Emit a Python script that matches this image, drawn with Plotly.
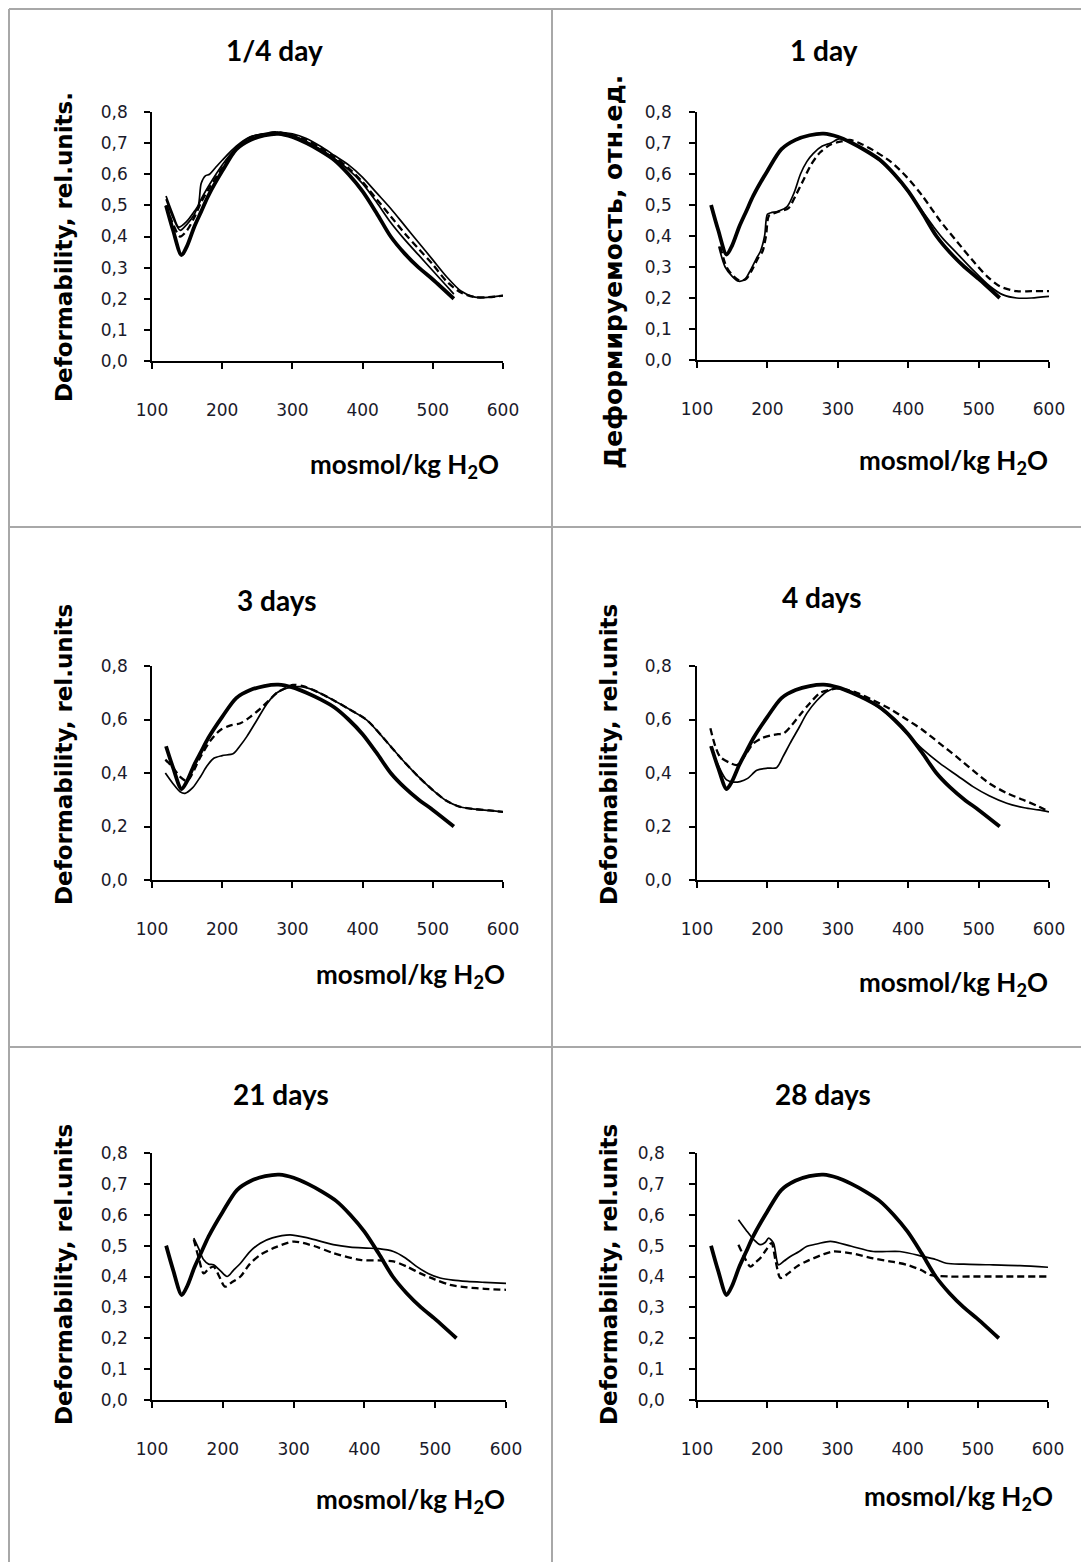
import plotly.graph_objects as go

W, H = 1089, 1562
OFF = 8                      # browser body margin
FW, FH = W - OFF, H - OFF    # figure size

# ---------------- data ----------------
# control (thick) curve, shown in every panel
ctrl_x = [120, 130, 142, 150, 160, 170, 180, 200, 220, 240, 260, 280, 300, 320, 340, 360, 380, 400, 420, 440, 460, 480, 500, 530]
ctrl_y = [0.50, 0.42, 0.34, 0.37, 0.43, 0.48, 0.53, 0.61, 0.68, 0.71, 0.725, 0.73, 0.72, 0.70, 0.675, 0.645, 0.60, 0.545, 0.475, 0.40, 0.345, 0.30, 0.262, 0.20]

# 1/4 day
d0_thinA_x = [120, 130, 138, 150, 160, 166, 170, 176, 182, 190, 200, 220, 240, 260, 280, 300, 320, 340, 360, 380, 400, 420, 440, 460, 480, 500, 520, 530]
d0_thinA_y = [0.53, 0.47, 0.43, 0.45, 0.48, 0.50, 0.57, 0.595, 0.60, 0.62, 0.645, 0.69, 0.72, 0.73, 0.735, 0.725, 0.705, 0.68, 0.65, 0.615, 0.57, 0.51, 0.445, 0.39, 0.34, 0.29, 0.24, 0.215]
d0_dash_x = [120, 130, 140, 150, 160, 170, 180, 200, 220, 240, 260, 280, 300, 320, 340, 360, 380, 400, 420, 440, 460, 480, 500, 520, 540, 560, 580, 600]
d0_dash_y = [0.50, 0.44, 0.40, 0.42, 0.46, 0.51, 0.55, 0.62, 0.68, 0.715, 0.73, 0.735, 0.725, 0.71, 0.685, 0.655, 0.62, 0.575, 0.52, 0.465, 0.41, 0.36, 0.31, 0.255, 0.22, 0.205, 0.205, 0.21]
d0_thinB_x = [120, 130, 140, 150, 160, 170, 180, 200, 220, 240, 260, 280, 300, 320, 340, 360, 380, 400, 420, 440, 460, 480, 500, 520, 540, 560, 580, 600]
d0_thinB_y = [0.52, 0.46, 0.42, 0.44, 0.47, 0.52, 0.56, 0.63, 0.685, 0.72, 0.73, 0.735, 0.73, 0.715, 0.69, 0.66, 0.63, 0.59, 0.54, 0.49, 0.435, 0.38, 0.325, 0.27, 0.225, 0.205, 0.205, 0.21]

# 1 day
d1_thin_x = [131, 140, 150, 159, 168, 176, 185, 190, 196, 200, 205, 215, 228, 238, 247, 256, 265, 278, 290, 303, 320, 350, 375, 398, 420, 436, 450, 469, 490, 516, 535, 554, 575, 600]
d1_thin_y = [0.366, 0.30, 0.27, 0.254, 0.26, 0.29, 0.33, 0.35, 0.40, 0.47, 0.475, 0.48, 0.495, 0.54, 0.60, 0.64, 0.666, 0.69, 0.70, 0.714, 0.70, 0.66, 0.61, 0.548, 0.48, 0.43, 0.39, 0.345, 0.295, 0.238, 0.21, 0.20, 0.20, 0.205]
d1_dash_x = [133, 142, 152, 161, 170, 178, 187, 193, 198, 202, 208, 218, 230, 240, 251, 262, 275, 290, 305, 317, 335, 350, 375, 398, 420, 445, 470, 492, 512, 530, 554, 575, 600]
d1_dash_y = [0.366, 0.30, 0.27, 0.256, 0.262, 0.29, 0.33, 0.35, 0.40, 0.465, 0.472, 0.48, 0.49, 0.53, 0.58, 0.63, 0.67, 0.695, 0.705, 0.71, 0.695, 0.677, 0.64, 0.59, 0.53, 0.45, 0.38, 0.32, 0.27, 0.238, 0.222, 0.222, 0.222]

# 3 days
d3_thin_x = [119, 130, 140, 147, 158, 169, 178, 188, 200, 216, 225, 235, 250, 264, 278, 292, 311, 330, 358, 380, 406, 430, 453, 478, 500, 520, 538, 560, 580, 600]
d3_thin_y = [0.40, 0.36, 0.33, 0.324, 0.345, 0.386, 0.425, 0.455, 0.465, 0.473, 0.50, 0.536, 0.60, 0.66, 0.70, 0.717, 0.723, 0.71, 0.673, 0.64, 0.598, 0.53, 0.46, 0.39, 0.336, 0.295, 0.274, 0.265, 0.26, 0.255]
d3_dash_x = [119, 130, 140, 150, 169, 183, 197, 212, 226, 240, 254, 266, 278, 290, 301, 315, 330, 358, 380, 406, 430, 453, 478, 500, 520, 538, 560, 580, 600]
d3_dash_y = [0.45, 0.42, 0.386, 0.37, 0.46, 0.52, 0.56, 0.578, 0.586, 0.61, 0.64, 0.67, 0.70, 0.718, 0.729, 0.725, 0.71, 0.673, 0.64, 0.598, 0.53, 0.46, 0.39, 0.336, 0.295, 0.274, 0.265, 0.26, 0.255]

# 4 days
d4_thin_x = [119, 130, 142, 152, 161, 172, 185, 200, 213, 222, 232, 245, 256, 270, 284, 298, 320, 350, 375, 398, 420, 445, 470, 492, 515, 540, 565, 585, 600]
d4_thin_y = [0.50, 0.43, 0.374, 0.366, 0.368, 0.38, 0.41, 0.418, 0.42, 0.46, 0.51, 0.57, 0.623, 0.67, 0.704, 0.716, 0.70, 0.66, 0.61, 0.548, 0.49, 0.436, 0.39, 0.349, 0.315, 0.287, 0.27, 0.262, 0.255]
d4_dash_x = [119, 126, 133, 145, 157, 168, 180, 192, 204, 215, 223, 235, 247, 260, 275, 287, 299, 315, 327, 350, 374, 398, 421, 445, 469, 492, 516, 540, 563, 585, 600]
d4_dash_y = [0.567, 0.50, 0.46, 0.44, 0.43, 0.465, 0.51, 0.53, 0.54, 0.545, 0.548, 0.58, 0.62, 0.66, 0.70, 0.71, 0.716, 0.71, 0.70, 0.672, 0.64, 0.60, 0.56, 0.51, 0.46, 0.41, 0.36, 0.325, 0.30, 0.275, 0.255]

# 21 days
d21_thin_x = [159, 166, 173, 180, 187, 196, 206, 215, 225, 238, 253, 270, 295, 320, 356, 380, 403, 420, 441, 458, 474, 490, 507, 525, 545, 570, 600]
d21_thin_y = [0.524, 0.49, 0.454, 0.44, 0.438, 0.42, 0.40, 0.42, 0.443, 0.48, 0.508, 0.525, 0.535, 0.525, 0.503, 0.495, 0.492, 0.49, 0.481, 0.46, 0.432, 0.41, 0.395, 0.388, 0.384, 0.381, 0.378]
d21_dash_x = [159, 166, 173, 180, 187, 195, 203, 212, 225, 238, 253, 275, 300, 330, 356, 394, 420, 441, 460, 479, 500, 521, 545, 570, 600]
d21_dash_y = [0.52, 0.46, 0.41, 0.425, 0.432, 0.40, 0.367, 0.38, 0.40, 0.44, 0.47, 0.495, 0.513, 0.498, 0.476, 0.454, 0.452, 0.449, 0.432, 0.41, 0.39, 0.373, 0.365, 0.36, 0.357]

# 28 days
d28_thin_x = [159, 170, 181, 190, 197, 202, 209, 216, 224, 233, 245, 256, 272, 290, 320, 351, 389, 422, 440, 455, 480, 517, 560, 600]
d28_thin_y = [0.584, 0.55, 0.519, 0.503, 0.51, 0.524, 0.508, 0.438, 0.45, 0.465, 0.48, 0.497, 0.506, 0.514, 0.498, 0.481, 0.481, 0.465, 0.455, 0.443, 0.44, 0.438, 0.435, 0.43]
d28_dash_x = [159, 168, 176, 183, 190, 198, 206, 212, 219, 230, 242, 254, 266, 280, 294, 320, 351, 380, 399, 420, 432, 460, 493, 540, 600]
d28_dash_y = [0.503, 0.46, 0.432, 0.445, 0.459, 0.485, 0.508, 0.45, 0.395, 0.41, 0.432, 0.447, 0.459, 0.472, 0.481, 0.475, 0.459, 0.447, 0.438, 0.42, 0.405, 0.40, 0.40, 0.40, 0.40]

titles = ["1/4 day", "1 day", "3 days", "4 days", "21 days", "28 days"]
ytitles = ["Deformability, rel.units.", "Деформируемость, отн.ед.",
           "Deformability, rel.units", "Deformability, rel.units",
           "Deformability, rel.units", "Deformability, rel.units"]
xtitle = "mosmol/kg H<sub>2</sub>O"
x_ticks = [100, 200, 300, 400, 500, 600]
y_ticks_fine = [0.0, 0.1, 0.2, 0.3, 0.4, 0.5, 0.6, 0.7, 0.8]
y_ticks_coarse = [0.0, 0.2, 0.4, 0.6, 0.8]

panels = [
    [("thick", ctrl_x, ctrl_y), ("thin", d0_thinA_x, d0_thinA_y), ("dash", d0_dash_x, d0_dash_y), ("thin", d0_thinB_x, d0_thinB_y)],
    [("thick", ctrl_x, ctrl_y), ("thin", d1_thin_x, d1_thin_y), ("dash", d1_dash_x, d1_dash_y)],
    [("thick", ctrl_x, ctrl_y), ("thin", d3_thin_x, d3_thin_y), ("dash", d3_dash_x, d3_dash_y)],
    [("thick", ctrl_x, ctrl_y), ("thin", d4_thin_x, d4_thin_y), ("dash", d4_dash_x, d4_dash_y)],
    [("thick", ctrl_x, ctrl_y), ("thin", d21_thin_x, d21_thin_y), ("dash", d21_dash_x, d21_dash_y)],
    [("thick", ctrl_x, ctrl_y), ("thin", d28_thin_x, d28_thin_y), ("dash", d28_dash_x, d28_dash_y)],
]

# ---------------- layout (page pixel geometry) ----------------
boxes = [(152, 503, 112, 361), (697, 1049, 112, 360),
         (152, 503, 666, 880), (697, 1049, 666, 880),
         (152, 506, 1153, 1400), (697, 1048, 1153, 1400)]
title_pos = [(274, 50), (824, 50), (277, 600), (822, 597), (281, 1094), (823, 1094)]
ytitle_pos = [(64, 247), (613, 272), (64, 755), (609, 755), (64, 1275), (609, 1275)]
ytitle_size = [23, 25, 23, 23, 23, 23]
xtitle_pos = [(404, 465), (953, 462), (410, 975), (953, 983), (410, 1500), (958, 1497)]
ylab_standoff = [13, 14, 13, 14, 13, 21]


def px(x):
    return (x - OFF) / FW


def py(y):
    return 1 - (y - OFF) / FH


fig = go.Figure()
styles = {
    "thick": dict(color="black", width=3.8),
    "thin": dict(color="black", width=1.7),
    "dash": dict(color="black", width=2.3, dash="7px,4px"),
}
TICKFONT = dict(family="DejaVu Sans", size=17, color="#1a1a2a")

annotations = []
for i, series in enumerate(panels):
    k = "" if i == 0 else str(i + 1)
    for kind, xs, ys in series:
        fig.add_trace(go.Scatter(x=xs, y=ys, mode="lines",
                                 line=dict(shape="spline", smoothing=0.8, **styles[kind]),
                                 xaxis="x" + k, yaxis="y" + k, showlegend=False, hoverinfo="skip"))
    l, r, t, b = boxes[i]
    yt = y_ticks_fine if i in (0, 1, 4, 5) else y_ticks_coarse
    fig.layout["xaxis" + k] = dict(domain=[px(l), px(r)], range=[100, 600], anchor="y" + k,
                                   tickvals=x_ticks, ticks="outside", ticklen=6, tickwidth=1.5, tickcolor="black",
                                   showline=True, linecolor="black", linewidth=1.5, showgrid=False, zeroline=False,
                                   ticklabelstandoff=27, tickfont=TICKFONT, fixedrange=True)
    fig.layout["yaxis" + k] = dict(domain=[py(b), py(t)], range=[0, 0.8], anchor="x" + k,
                                   tickvals=yt, tickformat=".1f", ticks="outside", ticklen=6, tickwidth=1.5,
                                   tickcolor="black", showline=True, linecolor="black", linewidth=1.5,
                                   showgrid=False, zeroline=False, ticklabelstandoff=ylab_standoff[i],
                                   tickfont=TICKFONT, fixedrange=True)
    tx, ty = title_pos[i]
    annotations.append(dict(text=titles[i], x=px(tx), y=py(ty), xref="paper", yref="paper", showarrow=False,
                            xanchor="center", yanchor="middle",
                            font=dict(family="Lato", size=28, color="black", weight="bold")))
    yx, yy = ytitle_pos[i]
    annotations.append(dict(text=ytitles[i], x=px(yx), y=py(yy), xref="paper", yref="paper", showarrow=False,
                            textangle=-90, xanchor="center", yanchor="middle",
                            font=dict(family="DejaVu Sans", size=ytitle_size[i], color="black", weight="bold")))
    xx, xy = xtitle_pos[i]
    annotations.append(dict(text=xtitle, x=px(xx), y=py(xy), xref="paper", yref="paper", showarrow=False,
                            xanchor="center", yanchor="middle",
                            font=dict(family="Lato", size=26, color="black", weight="bold")))

# panel frame lines
grey = dict(color="#a8a8a8", width=2)
shapes = [
    dict(type="line", xref="paper", yref="paper", x0=px(9), x1=1, y0=py(9), y1=py(9), line=grey),
    dict(type="line", xref="paper", yref="paper", x0=px(9), x1=px(9), y0=py(9), y1=0, line=grey),
    dict(type="line", xref="paper", yref="paper", x0=px(552), x1=px(552), y0=py(9), y1=0, line=grey),
    dict(type="line", xref="paper", yref="paper", x0=px(9), x1=1, y0=py(527), y1=py(527), line=grey),
    dict(type="line", xref="paper", yref="paper", x0=px(9), x1=1, y0=py(1047), y1=py(1047), line=grey),
]

fig.update_layout(width=FW, height=FH, margin=dict(l=0, r=0, t=0, b=0, autoexpand=False),
                  paper_bgcolor="white", plot_bgcolor="white", separators=", ",
                  annotations=annotations, shapes=shapes, showlegend=False)

fig.write_html("out.html", config={"displayModeBar": False})
